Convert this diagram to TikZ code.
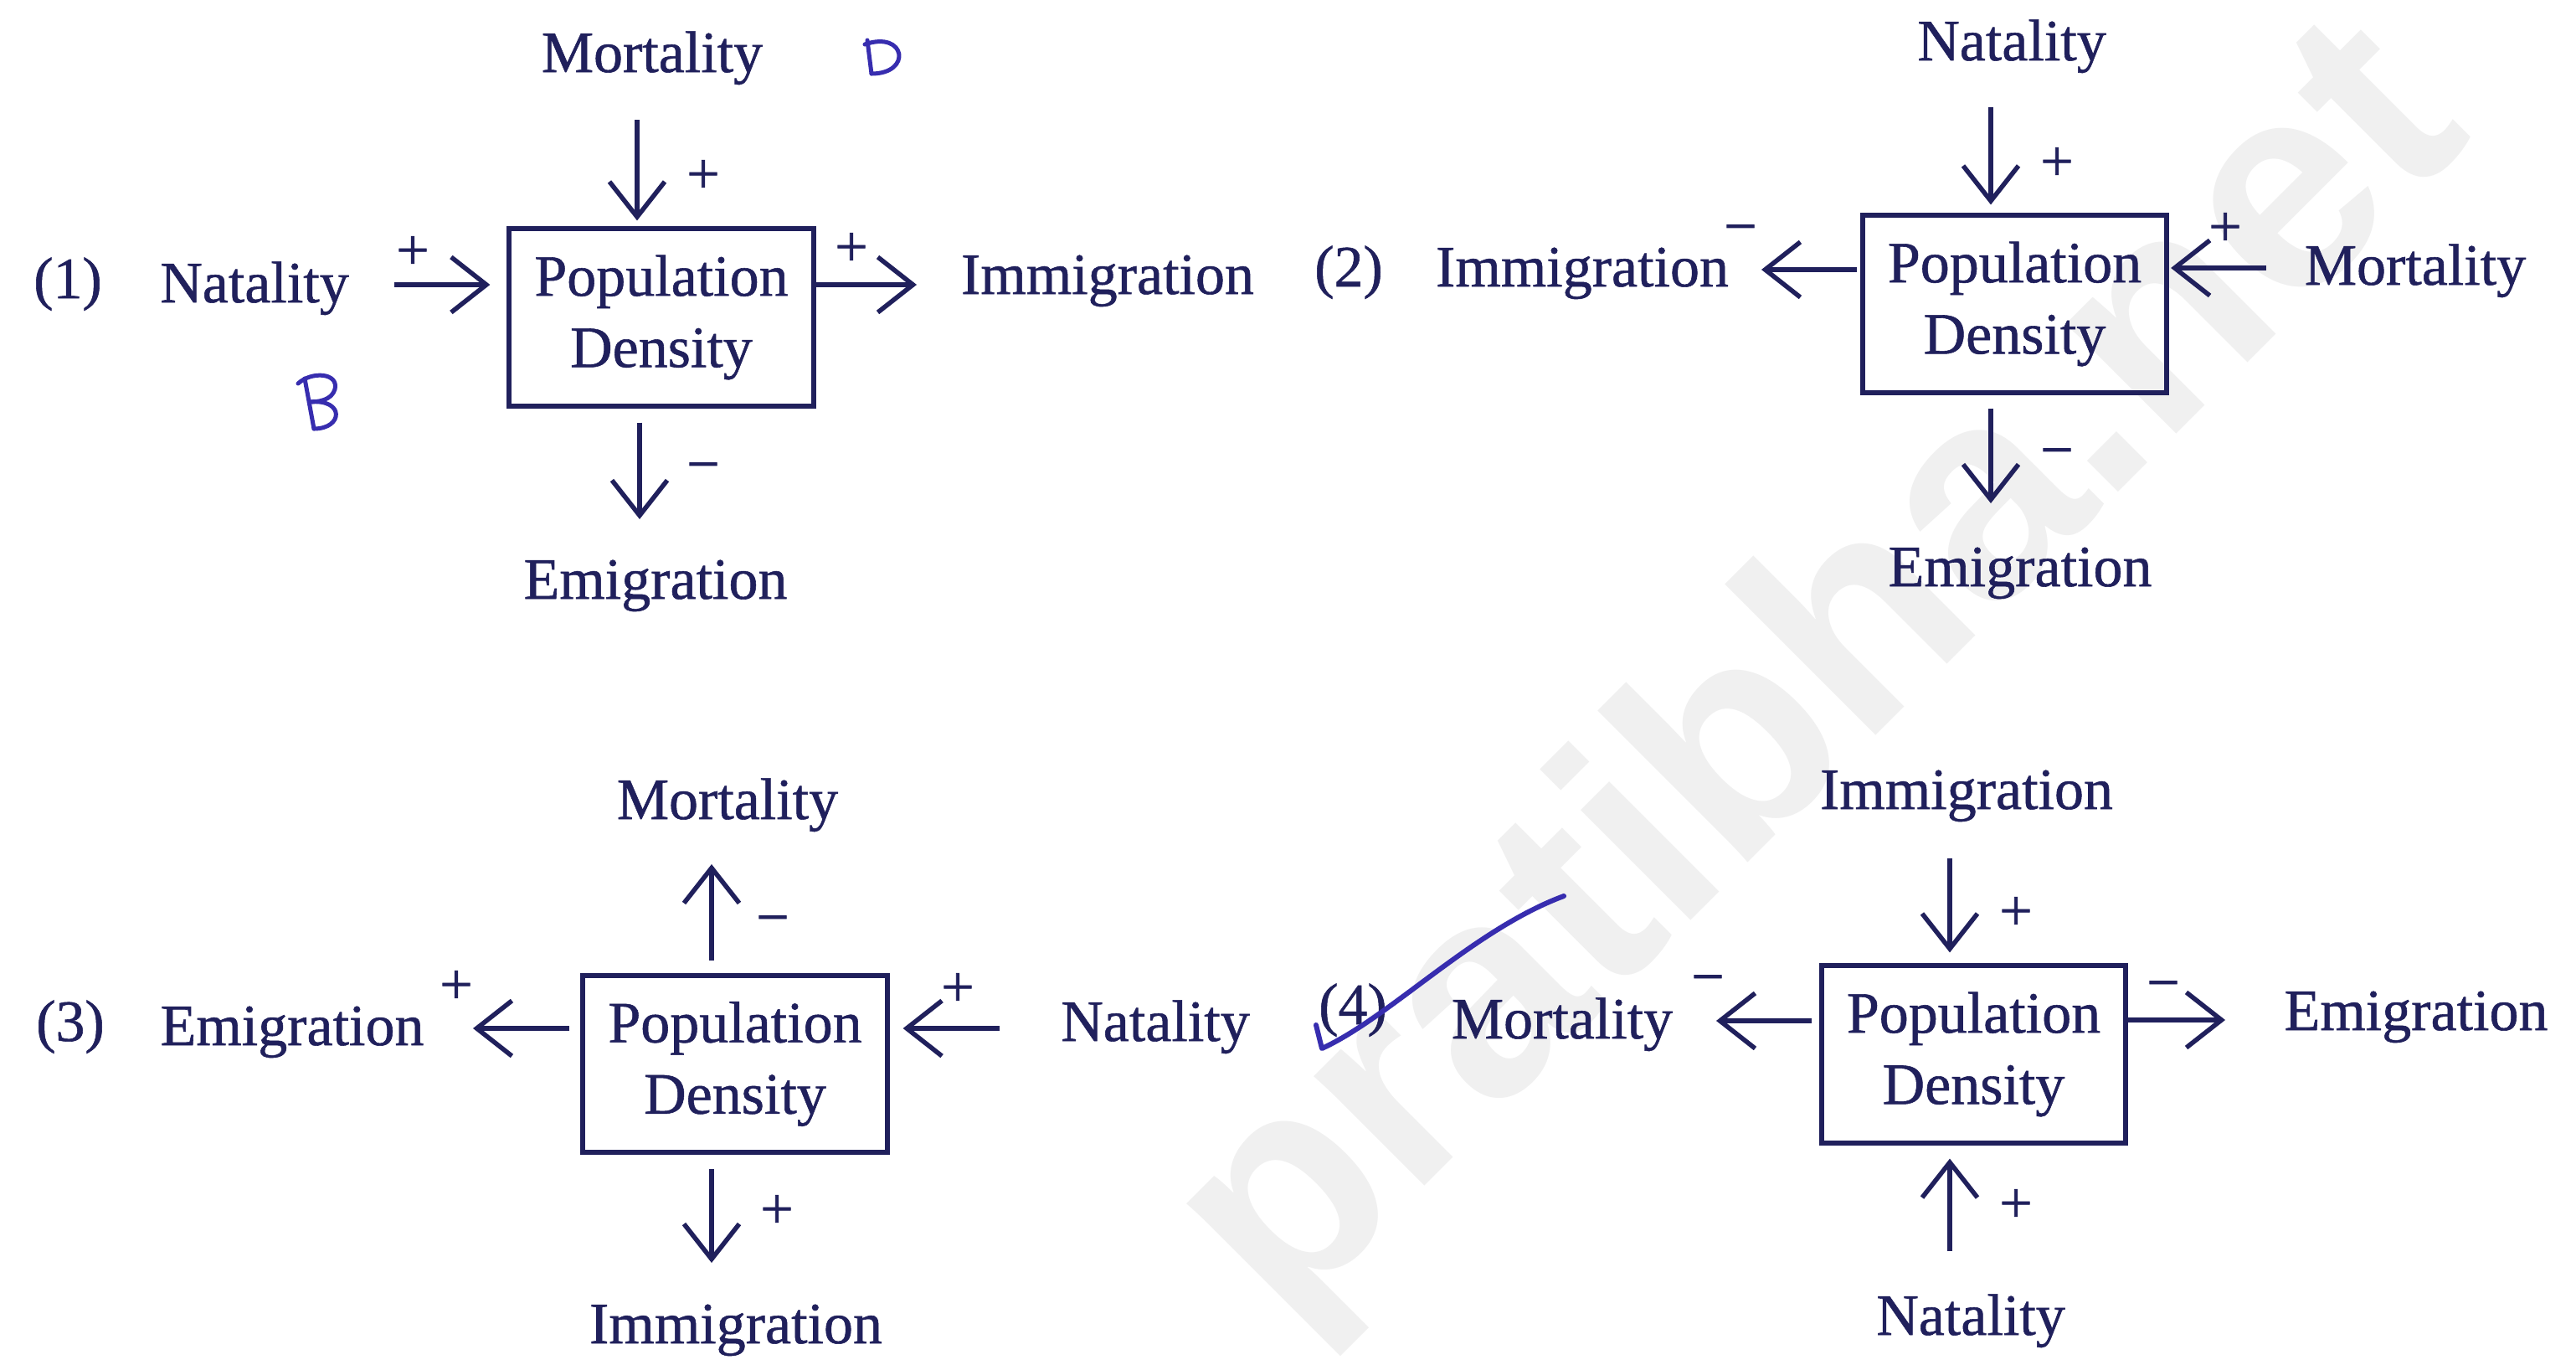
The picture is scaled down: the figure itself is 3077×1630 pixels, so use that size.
\documentclass[tikz,border=0pt]{standalone}
\usepackage{fontspec}
\setmainfont{Liberation Serif}[FakeBold=0.8]
\newfontfamily\wmfont{Liberation Sans}
\usetikzlibrary{arrows.meta}
\definecolor{ink}{RGB}{32,32,92}
\definecolor{pen}{RGB}{55,45,175}
\begin{document}
\begin{tikzpicture}[x=0.01cm,y=-0.01cm,
  font=\fontsize{19.9}{24.2}\selectfont,
  lbl/.style={anchor=base,inner sep=0,text=ink},
  sgn/.style={inner sep=0,text=ink},
  pdbox/.style={draw=ink,line width=0.6mm,minimum width=3.63cm,minimum height=2.11cm,inner sep=0,align=center,text=ink},
  arr/.style={draw=ink,line width=0.55mm,-{Straight Barb[length=4.2mm,width=6.6mm]}},
  hand/.style={draw=pen,line width=0.5mm,line cap=round,line join=round}]
\fill[white] (0,0) rectangle (3077,1630);
\useasboundingbox (0,0) rectangle (3077,1630);
% watermark
\node[rotate=45,inner sep=0,text=black!6,font=\wmfont\bfseries\fontsize{100}{100}\selectfont] (wm) at (2180,810) {pratibha.net};

% ---------- Panel 1 ----------
\node[pdbox] (b1) at (790,379) {Population\\Density};
\node[lbl] (n1) at (81,356) {(1)};
\node[lbl] (nat1) at (304,361) {Natality};
\node[lbl] (mor1) at (779,86) {Mortality};
\node[lbl] (imm1) at (1323,351) {Immigration};
\node[lbl] (emi1) at (783,715) {Emigration};
\coordinate (t1l) at (471,340);
\coordinate (t1t) at (761,143);
\coordinate (h1r) at (1095,340);
\coordinate (h1b) at (764,620);
\draw[arr,shorten >=2mm] (t1l) -- (t1l -| b1.west);
\draw[arr,shorten >=0.7mm] (t1t) -- (t1t |- b1.north);
\draw[arr] (h1r -| b1.east) -- (h1r);
\draw[arr,shorten <=1.7mm] (h1b |- b1.south) -- (h1b);
\node[sgn] (s1a) at (493,302) {+};
\node[sgn] (s1b) at (1017,298) {+};
\node[sgn] (s1c) at (840,211) {+};
\node[sgn] (s1d) at (840,565) {−};
% handwritten D and B
\draw[hand] (1036,48) -- (1041,88);
\draw[hand] (1033,53) .. controls (1082,36) and (1090,88) .. (1041,88);
\draw[hand] (364,452) -- (375,512);
\draw[hand] (356,458) .. controls (372,443) and (405,445) .. (400,465) .. controls (396,478) and (380,480) .. (370,480);
\draw[hand] (370,480) .. controls (412,476) and (410,512) .. (375,512);

% ---------- Panel 2 ----------
\node[pdbox] (b2) at (2406.5,363) {Population\\Density};
\node[lbl] (n2) at (1611,342) {(2)};
\node[lbl] (imm2) at (1890,342) {Immigration};
\node[lbl] (nat2) at (2403,72) {Natality};
\node[lbl] (mor2) at (2885,340) {Mortality};
\node[lbl] (emi2) at (2413,700) {Emigration};
\coordinate (t2t) at (2378,128);
\coordinate (h2l) at (2104,322);
\coordinate (t2r) at (2707,320);
\coordinate (h2b) at (2378,601);
\draw[arr,shorten >=1mm] (t2t) -- (t2t |- b2.north);
\draw[arr,shorten <=0.4mm] (h2l -| b2.west) -- (h2l);
\draw[arr,shorten >=0.2mm] (t2r) -- (t2r -| b2.east);
\draw[arr,shorten <=1.6mm] (h2b |- b2.south) -- (h2b);
\node[sgn] (s2a) at (2457,196) {+};
\node[sgn] (s2b) at (2079,281) {−};
\node[sgn] (s2c) at (2658,274) {+};
\node[sgn] (s2d) at (2457,548) {−};

% ---------- Panel 3 ----------
\node[pdbox] (b3) at (878,1270.5) {Population\\Density};
\node[lbl] (n3) at (84,1243) {(3)};
\node[lbl] (emi3) at (349,1248) {Emigration};
\node[lbl] (mor3) at (869,978) {Mortality};
\node[lbl] (nat3) at (1380,1243) {Natality};
\node[lbl] (imm3) at (879,1604) {Immigration};
\coordinate (h3t) at (850,1032);
\coordinate (h3l) at (565,1228);
\coordinate (t3r) at (1194,1228);
\coordinate (h3b) at (850,1508);
\draw[arr,shorten <=1.5mm] (h3t |- b3.north) -- (h3t);
\draw[arr,shorten <=1.3mm] (h3l -| b3.west) -- (h3l);
\draw[arr,shorten >=1.6mm] (t3r) -- (t3r -| b3.east);
\draw[arr,shorten <=1.7mm] (h3b |- b3.south) -- (h3b);
\node[sgn] (s3a) at (923,1106) {−};
\node[sgn] (s3b) at (545,1179) {+};
\node[sgn] (s3c) at (1144,1182) {+};
\node[sgn] (s3d) at (928,1447) {+};

% ---------- Panel 4 ----------
\node[pdbox] (b4) at (2357.5,1259) {Population\\Density};
\node[lbl] (n4) at (1616,1223) {(4)};
\node[lbl] (mor4) at (1866,1240) {Mortality};
\node[lbl] (emi4) at (2886,1230) {Emigration};
\node[lbl] (imm4) at (2349,966) {Immigration};
\node[lbl] (nat4) at (2354,1594) {Natality};
\coordinate (t4t) at (2329,1025);
\coordinate (h4l) at (2050,1219);
\coordinate (h4r) at (2658,1218);
\coordinate (t4b) at (2329,1494);
\draw[arr,shorten >=1.3mm] (t4t) -- (t4t |- b4.north);
\draw[arr,shorten <=0.9mm] (h4l -| b4.west) -- (h4l);
\draw[arr] (h4r -| b4.east) -- (h4r);
\draw[arr,shorten >=1.6mm] (t4b) -- (t4b |- b4.south);
\node[sgn] (s4a) at (2408,1091) {+};
\node[sgn] (s4b) at (2040,1177) {−};
\node[sgn] (s4c) at (2584,1184) {−};
\node[sgn] (s4d) at (2408,1440) {+};
% check mark
\draw[hand,line width=0.6mm] (1572,1224) -- (1579,1252) .. controls (1660,1215) and (1760,1110) .. (1868,1070);
\end{tikzpicture}
\end{document}
